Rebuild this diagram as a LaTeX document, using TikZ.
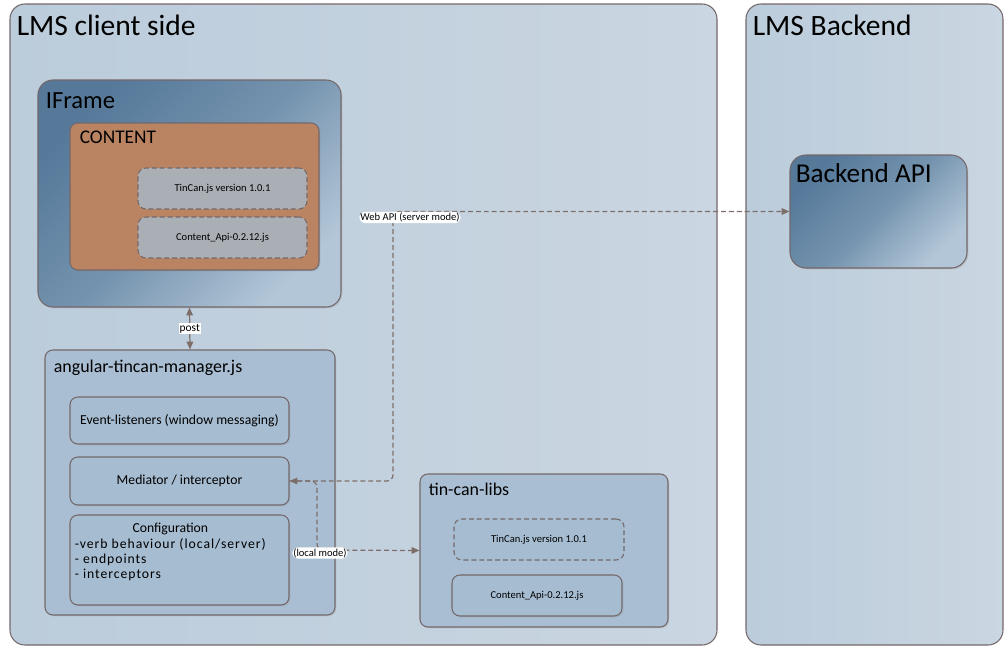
\documentclass[tikz,border=0pt]{standalone}
\usepackage{fontspec}
\setmainfont{Carlito}
\usetikzlibrary{positioning, arrows.meta, calc, shadows}
\definecolor{lmsA}{HTML}{BBCCDB}
\definecolor{lmsB}{HTML}{CAD6E1}
\definecolor{edgegrey}{HTML}{74686A}
\definecolor{frameA}{HTML}{56799A}
\definecolor{frameM}{HTML}{7493AE}
\definecolor{frameB}{HTML}{B3C6D8}
\definecolor{contentfill}{HTML}{BA8462}
\definecolor{libgrey}{HTML}{AAAEB5}
\definecolor{modfill}{HTML}{A9BED2}
\definecolor{partfill}{HTML}{A6BCD1}
\definecolor{linkcol}{HTML}{7D6E6A}

\begin{document}
\begin{tikzpicture}[
    >={Triangle[length=4.5pt,width=3.8pt]},
    container/.style={rectangle, draw=edgegrey, rounded corners=8.5pt, line width=0.6pt,
                      inner sep=0pt, left color=lmsA, right color=lmsB},
    darkbox/.style={rectangle, draw=edgegrey, rounded corners=8.5pt, line width=0.6pt, inner sep=0pt,
                    top color=frameA, bottom color=frameB, middle color=frameM, shading angle=45,
                    drop shadow={opacity=0.25, shadow xshift=0.8pt, shadow yshift=-0.8pt}},
    contentbox/.style={rectangle, draw=edgegrey, rounded corners=4.5pt, line width=0.6pt, inner sep=0pt,
                       fill=contentfill, drop shadow={opacity=0.25, shadow xshift=0.8pt, shadow yshift=-0.8pt}},
    libbox/.style={rectangle, draw=edgegrey, rounded corners=4.5pt, line width=0.6pt, inner sep=0pt,
                   dash pattern=on 2.8pt off 1.7pt, fill=libgrey, font=\fontsize{6}{7}\selectfont,
                   minimum width=3.38cm, minimum height=0.82cm},
    module/.style={rectangle, draw=edgegrey, rounded corners=4.5pt, line width=0.6pt, inner sep=0pt,
                   fill=modfill, drop shadow={opacity=0.2, shadow xshift=0.8pt, shadow yshift=-0.8pt}},
    part/.style={rectangle, draw=edgegrey, rounded corners=4.5pt, line width=0.6pt, inner sep=0pt,
                 fill=partfill, font=\fontsize{7.8}{9}\selectfont,
                 drop shadow={opacity=0.2, shadow xshift=0.8pt, shadow yshift=-0.8pt}},
    bigtitle/.style={anchor=base west, inner sep=0pt, font=\fontsize{16.8}{19}\selectfont},
    title/.style={anchor=base west, inner sep=0pt, font=\fontsize{10.2}{12}\selectfont},
    tag/.style={fill=white, inner sep=0.6pt, font=\fontsize{6}{7}\selectfont},
    link/.style={draw=linkcol, line width=0.7pt, dash pattern=on 2.8pt off 1.7pt, rounded corners=3.5pt}
]
\fill[white] (0,0) rectangle (20.14,-12.92);
\useasboundingbox (0,0) rectangle (20.14,-12.92);

% the two sides
\node[container, minimum width=14.14cm, minimum height=12.82cm] (client) at (7.27,-6.49) {};
\node[container, minimum width=5.14cm, minimum height=12.82cm] (backend) at (17.49,-6.49) {};
\node[bigtitle] at ($(client.north west)+(0.14,-0.64)$) {LMS client side};
\node[bigtitle] at ($(backend.north west)+(0.14,-0.64)$) {LMS Backend};

% iframe with its content
\node[darkbox, minimum width=6.06cm, minimum height=4.54cm] (iframe) at (3.79,-3.87) {};
\node[bigtitle, font=\fontsize{14}{16}\selectfont] at ($(iframe.north west)+(0.16,-0.58)$) {IFrame};
\node[contentbox, minimum width=4.98cm, minimum height=2.94cm] (content) at (3.89,-3.93) {};
\node[title, font=\fontsize{11}{13}\selectfont] at ($(content.north west)+(0.2,-0.42)$) {CONTENT};
\node[libbox] (tincanA) at (4.45,-3.77) {TinCan.js version 1.0.1};
\node[libbox] (capiA) at (4.45,-4.75) {Content\_Api-0.2.12.js};

% backend
\node[darkbox, rounded corners=9pt, minimum width=3.54cm, minimum height=2.26cm] (backendapi) at (17.57,-4.23) {};
\node[bigtitle, font=\fontsize{15.5}{18}\selectfont] at ($(backendapi.north west)+(0.12,-0.56)$) {Backend API};

% manager
\node[module, minimum width=5.8cm, minimum height=5.3cm] (manager) at (3.8,-9.65) {};
\node[title] at ($(manager.north west)+(0.18,-0.46)$) {angular-tincan-manager.js};
\node[part, minimum width=4.38cm, minimum height=0.94cm] (events) at (3.59,-8.41) {Event-listeners (window messaging)};
\node[part, minimum width=4.38cm, minimum height=0.96cm] (mediator) at (3.59,-9.62) {Mediator / interceptor};
\node[part, minimum width=4.38cm, minimum height=1.8cm] (config) at (3.59,-11.2) {};
\node[anchor=north west, inner sep=0pt, font=\fontsize{7.8}{8.6}\selectfont]
    (configtext) at ($(config.north west)+(0.1,-0.15)$)
    {\begin{tabular}{@{}l@{}}\multicolumn{1}{@{}c@{}}{Configuration}\\
     \addfontfeature{LetterSpace=7}-verb behaviour (local/server)\\
     \addfontfeature{LetterSpace=7}- endpoints\\
     \addfontfeature{LetterSpace=7}- interceptors\end{tabular}};

% tin-can-libs
\node[module, minimum width=4.96cm, minimum height=3.06cm] (libs) at (10.88,-11.01) {};
\node[title] at ($(libs.north west)+(0.18,-0.44)$) {tin-can-libs};
\node[libbox, fill=partfill, minimum width=3.4cm] (tincanB) at (10.78,-10.79) {TinCan.js version 1.0.1};
\node[part, font=\fontsize{6}{7}\selectfont, minimum width=3.4cm, minimum height=0.82cm] (capiB) at (10.74,-11.91) {Content\_Api-0.2.12.js};

% connectors
\coordinate (webbend) at (7.86,-4.23);
\coordinate (localbend) at (6.34,-11.0);
\draw[draw=linkcol, line width=0.7pt, <->] (iframe.south) -- node[tag, font=\fontsize{6.5}{7}\selectfont] {post} (manager.north);
\draw[link, <->] (mediator.east) -| (webbend)
    node[tag, xshift=0.34cm, yshift=-0.12cm] {Web API (server mode)} -- (backendapi.west);
\draw[link, ->] (mediator.east) -| (localbend)
    node[tag, xshift=0.06cm, yshift=-0.06cm] {(local mode)} -- (libs.west);
\end{tikzpicture}
\end{document}
